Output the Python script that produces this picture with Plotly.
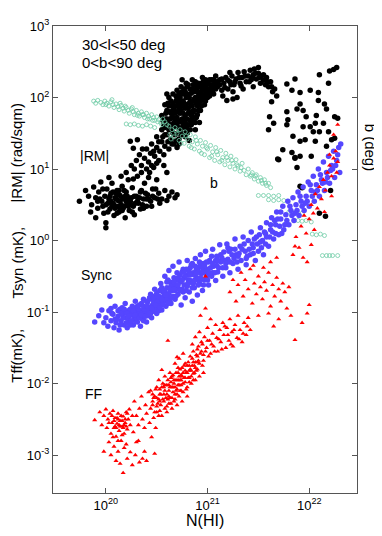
import plotly.graph_objects as go

# values, stored as (log10 N(HI), log10 y)
rm_pts = [
    (19.74,0.55),(19.80,0.70),(19.83,0.62),(19.86,0.50),(19.88,0.75),(19.90,0.60),(19.92,0.45),(19.93,0.68),
    (19.95,0.82),(19.96,0.55),(19.98,0.38),(19.99,0.62),(20.00,0.25),(20.00,0.18),(20.00,0.50),(20.01,0.72),
    (20.03,0.58),(20.04,0.44),(20.05,0.66),(20.06,0.80),(20.07,0.52),(20.08,0.35),(20.09,0.60),(20.10,0.47),
    (20.11,0.70),(20.12,0.56),(20.13,0.40),(20.14,0.63),(20.15,0.50),(20.16,0.76),(20.17,0.45),(20.18,0.58),
    (20.19,0.32),(20.20,0.68),(20.21,0.52),(20.22,0.85),(20.23,0.42),(20.25,0.60),(20.26,0.74),(20.27,0.48),
    (20.28,0.36),(20.30,0.62),(20.31,0.90),(20.32,0.52),(20.34,0.44),(20.35,0.70),(20.37,0.58),(20.38,0.80),
    (20.40,0.48),(20.41,0.64),(20.43,0.95),(20.44,0.55),(20.46,0.72),(20.48,0.60),(20.50,0.85),(20.52,0.66),
    (20.55,0.58),(20.58,0.70),(20.62,0.62),(20.65,0.68),(20.10,0.58),(20.13,0.70),(20.06,0.48),(20.20,0.55),
    (19.85,0.40),(19.90,0.32),(19.94,0.58),(19.97,0.72),(20.02,0.40),(20.04,0.62),(20.07,0.68),(20.09,0.45),
    (20.11,0.38),(20.12,0.64),(20.14,0.55),(20.16,0.42),(20.17,0.60),(20.18,0.70),(20.21,0.62),(20.22,0.48),
    (20.24,0.55),(20.26,0.40),(20.29,0.52),(20.33,0.60),(20.36,0.50),(20.39,0.66),(20.42,0.58),(20.45,0.48),
    (20.49,0.72),(20.53,0.52),(20.60,0.56),(20.68,0.60),(20.70,0.64),(20.03,0.88),(20.15,0.90),(20.27,0.86),
    (20.02,0.52),(20.05,0.55),(20.08,0.50),(20.10,0.66),(20.12,0.48),(20.14,0.45),(20.16,0.60),(20.18,0.48),
    (20.19,0.62),(20.23,0.58),(20.25,0.50),(20.28,0.62),(20.31,0.55),(20.34,0.68),(20.37,0.45),(20.40,0.58),
    (20.46,0.62),(20.51,0.58),(19.92,0.55),(19.97,0.48),
    (20.20,0.95),(20.25,1.05),(20.28,1.00),(20.30,1.12),(20.33,1.20),(20.35,1.05),(20.38,1.15),(20.40,1.28),
    (20.42,1.10),(20.44,1.22),(20.45,1.35),(20.47,1.02),(20.48,1.18),(20.50,1.30),(20.50,1.45),(20.52,1.12),
    (20.53,1.25),(20.55,1.38),(20.55,1.55),(20.57,1.20),(20.58,1.32),(20.60,1.48),(20.60,1.62),(20.62,1.28),
    (20.63,1.40),(20.65,1.55),(20.65,1.72),(20.67,1.35),(20.68,1.48),(20.70,1.62),(20.70,1.80),(20.72,1.42),
    (20.73,1.55),(20.75,1.70),(20.75,1.88),(20.24,1.39),(20.31,1.41),(20.27,1.29),(20.36,1.28),
    (20.45,1.05),(20.50,1.08),(20.52,1.38),(20.47,1.25),(20.56,1.45),(20.40,1.00),(20.35,0.95),(20.42,0.88),
    (20.57,1.05),(20.60,0.95),
    (20.55,1.75),(20.58,1.90),(20.60,1.82),(20.62,2.00),(20.63,1.70),(20.65,1.88),(20.66,2.05),(20.68,1.78),
    (20.69,1.95),(20.70,2.10),(20.71,1.68),(20.72,1.85),(20.73,2.00),(20.74,2.15),(20.75,1.58),(20.76,1.78),
    (20.77,1.92),(20.78,2.08),(20.79,2.20),(20.80,1.50),(20.80,1.70),(20.81,1.85),(20.82,2.00),(20.83,2.12),
    (20.84,1.62),(20.85,1.78),(20.86,1.95),(20.87,2.08),(20.88,2.22),(20.89,1.72),(20.90,1.88),(20.91,2.02),
    (20.92,2.15),(20.93,1.82),(20.94,1.96),(20.95,2.10),(20.96,2.22),(20.97,1.90),(20.98,2.05),(20.99,2.18),
    (21.00,2.00),(21.01,2.12),(21.02,2.25),(21.03,2.08),(21.05,2.18),(21.06,2.05),(21.08,2.22),(20.68,1.60),
    (20.78,1.45),(20.72,1.35),(20.82,1.40),(20.88,1.55),(20.92,1.65),(20.66,1.50),(20.85,2.25),(20.75,2.25),
    (20.95,2.28),(20.62,1.55),(20.60,2.05),(20.70,1.50),(20.78,1.65),(20.84,1.90),(20.90,2.08),(20.96,2.00),
    (20.57,1.62),(20.59,1.78),(20.61,1.92),(20.63,1.80),(20.64,1.95),(20.66,1.72),(20.67,1.85),(20.69,2.02),
    (20.70,1.72),(20.71,1.90),(20.72,2.06),(20.73,1.78),(20.74,1.92),(20.76,2.05),(20.77,1.68),(20.78,1.85),
    (20.79,2.00),(20.80,2.15),(20.81,1.78),(20.82,1.92),(20.83,1.68),(20.84,2.06),(20.85,1.88),(20.86,2.18),
    (20.87,1.82),(20.88,2.00),(20.89,2.12),(20.90,1.95),(20.91,2.20),(20.92,1.90),(20.93,2.08),(20.94,2.20),
    (20.95,1.98),(20.97,2.15),(20.98,2.25),(21.00,2.10),(21.02,2.02),(21.04,2.15),(21.06,2.25),(21.08,2.12),
    (20.74,1.48),(20.79,1.56),(20.86,1.66),(20.90,1.76),(20.67,1.65),(20.64,1.42),(20.69,1.40),(20.76,1.62),
    (20.83,1.55),(20.71,1.58),(20.58,1.48),(20.61,1.38),
    (20.56,1.68),(20.58,1.58),(20.59,1.70),(20.61,1.65),(20.62,1.88),(20.64,1.62),(20.64,1.78),(20.66,1.92),
    (20.67,1.58),(20.68,1.88),(20.69,1.70),(20.70,1.98),(20.71,1.80),(20.72,1.95),(20.73,1.66),(20.74,1.82),
    (20.75,2.08),(20.76,1.70),(20.76,1.95),(20.77,2.12),(20.78,1.75),(20.79,1.90),(20.80,2.05),(20.80,1.60),
    (20.81,2.18),(20.82,1.80),(20.83,1.95),(20.84,1.75),(20.85,2.12),(20.86,1.82),(20.87,1.98),(20.88,1.65),
    (20.88,2.10),(20.89,1.92),(20.90,2.15),(20.91,1.82),(20.92,2.00),(20.93,2.18),(20.94,1.88),(20.95,2.04),
    (20.96,2.14),(20.97,2.02),(20.98,1.95),(20.99,2.10),(21.00,2.22),(21.01,2.05),(21.03,2.18),(21.04,2.25),
    (21.05,2.10),(21.07,2.18),(20.65,1.35),(20.70,1.30),(20.77,1.50),(20.81,1.62),(20.86,1.72),(20.60,1.70),
    (20.66,1.82),(20.73,1.88),
    (21.10,2.15),(21.12,2.25),(21.14,2.10),(21.16,2.20),(21.18,2.28),(21.20,2.12),(21.22,2.22),(21.24,2.30),
    (21.26,2.18),(21.28,2.26),(21.30,2.35),(21.32,2.20),(21.34,2.28),(21.36,2.36),(21.38,2.22),(21.40,2.30),
    (21.42,2.38),(21.43,2.25),(21.45,2.32),(21.46,2.40),(21.48,2.26),(21.50,2.34),(21.52,2.20),(21.53,2.30),
    (21.55,2.24),(21.57,2.18),(21.58,2.28),(21.60,2.15),(21.62,2.22),(21.64,2.08),(21.66,2.12),(21.68,2.02),
    (21.15,2.02),(21.25,2.08),(21.35,2.12),(21.45,2.15),(21.22,2.35),(21.08,2.30),(21.50,2.42),
    (21.10,2.22),(21.12,2.18),(21.14,2.26),(21.17,2.14),(21.20,2.24),(21.23,2.18),(21.27,2.22),(21.31,2.28),
    (21.33,2.16),(21.37,2.30),(21.41,2.22),(21.44,2.28),(21.47,2.34),(21.51,2.28),(21.55,2.32),(21.59,2.22),
    (21.63,2.15),(21.19,1.96),(21.25,1.98),(21.29,2.00),
    (21.63,1.94),(21.60,1.55),(21.65,1.64),(21.78,2.19),(21.86,2.26),(21.83,2.10),(21.91,2.07),(22.01,2.10),
    (22.09,2.07),(22.10,2.32),(22.19,2.20),(22.20,2.37),(22.24,2.39),(22.27,2.42),(22.09,1.96),(22.17,1.84),
    (22.15,1.91),(22.25,1.73),(22.28,1.71),(21.91,1.91),(21.88,1.84),(21.94,1.82),(21.78,1.80),(21.79,1.69),
    (21.97,1.73),(22.07,1.75),(22.14,1.64),(22.01,1.59),(22.04,1.52),(21.94,1.59),(21.84,1.46),(21.91,1.39),
    (21.96,1.41),(22.06,1.39),(22.19,1.52),(22.22,1.41),(22.25,1.43),(21.74,1.27),(21.83,1.23),(21.86,1.16),
    (21.91,1.18),(22.02,1.18),(22.17,1.32),(21.69,1.14),(21.78,1.62),(22.06,1.64),(22.10,1.52),(21.61,1.73),
    (21.70,1.13),(21.86,1.15),(21.88,1.02),(21.91,0.76),(22.21,0.70),(22.10,0.38),(22.16,0.34),(21.93,0.74),
]

b_pts = [
    (19.88,1.95),(19.92,1.96),(19.95,1.93),(19.97,1.90),(19.99,1.95),(20.01,1.92),(20.03,1.88),(20.05,1.94),
    (20.07,1.90),(20.08,1.86),(20.10,1.91),(20.12,1.87),(20.13,1.83),(20.15,1.89),(20.17,1.85),(20.18,1.81),
    (20.20,1.86),(20.22,1.82),(20.23,1.78),(20.25,1.84),(20.27,1.80),(20.28,1.76),(20.30,1.82),(20.32,1.78),
    (20.33,1.74),(20.35,1.80),(20.37,1.76),(20.38,1.72),(20.40,1.78),(20.42,1.74),(20.43,1.70),(20.45,1.76),
    (20.47,1.72),(20.48,1.68),(20.50,1.73),(20.52,1.69),(20.54,1.65),(20.56,1.70),(20.58,1.66),(20.60,1.62),
    (19.90,1.92),(20.00,1.90),(20.06,1.97),(20.14,1.92),(20.19,1.88),(20.26,1.86),(20.31,1.75),(20.36,1.76),
    (20.41,1.70),(20.46,1.68),(20.51,1.66),(20.55,1.62),
    (20.20,1.63),(20.24,1.62),(20.28,1.63),(20.32,1.61),(20.36,1.60),(20.40,1.62),(20.44,1.60),(20.48,1.58),
    (20.62,1.60),(20.63,1.48),(20.65,1.55),(20.67,1.45),(20.68,1.58),(20.70,1.50),(20.72,1.40),(20.73,1.55),
    (20.75,1.46),(20.77,1.36),(20.78,1.52),(20.80,1.42),(20.82,1.32),(20.83,1.48),(20.85,1.38),(20.87,1.28),
    (20.88,1.45),(20.90,1.35),(20.92,1.25),(20.93,1.40),(20.95,1.32),(20.97,1.20),(20.98,1.37),(21.00,1.28),
    (21.02,1.16),(21.03,1.33),(21.05,1.24),(21.07,1.12),(21.08,1.30),(21.10,1.20),(21.12,1.10),(21.13,1.26),
    (21.15,1.16),(21.17,1.06),(21.18,1.22),(21.20,1.12),(21.22,1.03),(21.23,1.18),(21.25,1.08),(21.27,1.00),
    (21.28,1.13),(21.30,1.04),(21.32,0.97),(21.34,1.08),
    (20.64,1.42),(20.69,1.53),(20.74,1.36),(20.79,1.46),(20.84,1.30),(20.89,1.40),(20.94,1.22),(20.99,1.30),
    (21.04,1.18),(21.09,1.24),(21.14,1.12),(21.19,1.16),(21.24,1.12),(21.29,1.06),(21.33,1.02),
    (21.36,0.98),(21.38,0.92),(21.40,1.00),(21.42,0.90),(21.44,0.95),(21.46,0.86),(21.48,0.92),(21.50,0.83),
    (21.52,0.88),(21.54,0.80),(21.56,0.85),(21.58,0.77),(21.60,0.80),(21.62,0.74),
    (21.43,0.92),(21.47,0.90),(21.53,0.84),(21.57,0.80),
    (21.50,0.63),(21.55,0.63),(21.60,0.63),(21.65,0.62),(21.70,0.63),
    (21.60,0.57),(21.65,0.56),(21.70,0.57),(21.75,0.56),
    (21.80,0.40),(21.84,0.39),(21.88,0.40),(21.93,0.38),
    (21.89,0.28),(21.93,0.27),(21.97,0.28),(22.02,0.26),
    (22.03,0.09),(22.07,0.08),(22.11,0.09),(22.15,0.07),
    (22.13,-0.21),(22.17,-0.21),(22.20,-0.21),(22.23,-0.21),(22.28,-0.21),
]

sync_pts = [
    (19.89,-1.14),(19.93,-1.05),(19.96,-0.97),(19.98,-1.15),(20.00,-1.08),(20.02,-1.20),(20.03,-0.98),(20.04,-0.78),
    (20.05,-1.12),(20.07,-1.03),(20.08,-1.22),(20.09,-0.92),(20.10,-1.15),(20.12,-1.06),(20.13,-1.25),(20.14,-0.96),
    (20.15,-1.12),(20.17,-1.02),(20.18,-1.18),(20.19,-0.88),(20.20,-1.08),(20.21,-1.22),(20.22,-0.98),(20.23,-1.13),
    (20.25,-1.04),(20.26,-0.92),(20.27,-1.18),(20.28,-1.08),(20.29,-0.85),(20.30,-0.99),(20.31,-1.14),(20.32,-1.05),
    (20.33,-0.90),(20.34,-1.20),(20.35,-0.98),(20.36,-1.10),(20.37,-0.82),(20.38,-1.02),(20.39,-0.93),(20.40,-1.14),
    (20.41,-0.86),(20.42,-1.05),(20.43,-0.96),(20.44,-0.75),(20.45,-1.08),(20.46,-0.90),(20.47,-0.99),(20.48,-0.68),
    (20.49,-0.84),(20.50,-1.02),(20.51,-0.93),(20.52,-0.78),(20.53,-0.88),(20.54,-0.60),(20.55,-0.97),(20.56,-0.72),
    (20.57,-0.85),(20.58,-0.50),(20.59,-0.92),(20.60,-0.66),(20.61,-0.80),(20.62,-0.42),(20.63,-0.58),(20.64,-0.88),
    (20.65,-0.70),(20.66,-0.36),(20.67,-0.52),(20.68,-0.82),(20.69,-0.64),(20.70,-0.45),(20.71,-0.75),(20.72,-0.30),
    (20.73,-0.58),(20.74,-0.90),(20.75,-0.68),(20.76,-0.40),(20.77,-0.52),(20.78,-0.80),(20.79,-0.62),(20.80,-0.28),
    (20.81,-0.48),(20.82,-0.72),(20.83,-0.38),(20.84,-0.58),(20.85,-0.85),(20.86,-0.45),(20.87,-0.66),(20.88,-0.25),
    (20.89,-0.52),(20.90,-0.76),(20.91,-0.38),(20.92,-0.60),(20.93,-0.20),(20.94,-0.46),(20.95,-0.70),(20.96,-0.32),
    (20.97,-0.55),(20.98,-0.15),(21.00,-0.40),(21.01,-0.62),(21.02,-0.28),(21.04,-0.50),(21.05,-0.12),(21.06,-0.36),
    (21.08,-0.56),(21.09,-0.22),(21.10,-0.44),(21.12,-0.06),(21.13,-0.30),(21.15,-0.50),(21.16,-0.16),(21.18,-0.38),
    (21.19,-0.05),(21.20,-0.26),(21.22,-0.45),(21.23,-0.12),(21.25,-0.32),(21.27,0.02),(21.28,-0.20),(21.30,-0.40),
    (21.32,-0.08),(21.33,-0.28),(21.35,0.05),(21.37,-0.15),(21.38,-0.34),(21.40,0.00),(21.42,-0.20),(21.43,0.12),
    (21.45,-0.10),(21.47,-0.28),(21.48,0.05),(21.50,-0.15),(21.52,0.18),(21.54,0.00),(21.55,-0.20),(21.57,0.10),
    (21.58,0.25),(21.60,-0.08),(21.62,0.15),(21.63,0.32),(21.65,0.02),(21.67,0.22),(21.68,0.40),(21.70,0.08),
    (21.72,0.30),(21.74,0.48),(21.75,0.15),(21.77,0.36),(21.79,0.55),(21.80,0.22),(21.82,0.42),(21.84,0.60),
    (21.85,0.28),(21.87,0.50),(21.89,0.68),(21.90,0.35),(21.92,0.55),(21.94,0.75),(21.95,0.42),(21.97,0.62),
    (21.99,0.82),(22.00,0.48),(22.02,0.70),(22.04,0.90),(22.05,0.55),(22.07,0.78),(22.09,1.00),(22.10,0.62),
    (22.12,0.85),(22.14,1.10),(22.15,0.70),(22.17,0.95),(22.19,1.18),(22.20,0.80),(22.22,1.05),(22.24,1.25),
    (22.25,0.88),(22.27,1.12),(22.29,1.30),(22.30,0.95),(22.31,1.35),
    (20.05,-0.95),(20.11,-1.10),(20.16,-0.94),(20.20,-1.15),(20.24,-0.96),(20.29,-1.12),(20.33,-1.00),(20.37,-1.12),
    (20.41,-1.00),(20.45,-0.82),(20.49,-0.95),(20.53,-0.70),(20.57,-0.78),(20.61,-0.55),(20.65,-0.62),(20.69,-0.55),
    (20.73,-0.48),(20.77,-0.62),(20.81,-0.55),(20.85,-0.32),(20.89,-0.40),(20.93,-0.35),(20.97,-0.45),(21.01,-0.30),
    (21.05,-0.45),(21.09,-0.35),(21.13,-0.20),(21.17,-0.28),(21.21,-0.15),(21.26,-0.25),(21.31,-0.18),(21.36,-0.05),
    (21.41,-0.12),(21.46,0.02),(21.51,0.08),(21.56,0.12),(21.61,0.05),(21.66,0.28),(21.71,0.20),
    (20.06,-1.02),(20.09,-1.10),(20.12,-0.98),(20.14,-1.18),(20.17,-1.08),(20.19,-1.00),(20.22,-1.08),(20.24,-1.18),
    (20.26,-1.02),(20.28,-0.95),(20.30,-1.08),(20.32,-0.96),(20.34,-1.06),(20.35,-0.88),(20.38,-0.96),(20.40,-0.85),
    (20.42,-0.94),(20.43,-0.80),(20.44,-1.02),(20.46,-0.78),(20.47,-0.88),(20.48,-0.96),(20.50,-0.74),(20.51,-0.85),
    (20.52,-0.98),(20.54,-0.80),(20.55,-0.66),(20.56,-0.90),(20.58,-0.72),(20.59,-0.82),(20.60,-0.58),(20.62,-0.74),
    (20.63,-0.85),(20.64,-0.64),(20.66,-0.78),(20.67,-0.58),(20.68,-0.70),(20.70,-0.62),(20.71,-0.52),(20.72,-0.68),
    (20.74,-0.55),(20.75,-0.44),(20.76,-0.72),(20.78,-0.50),(20.79,-0.40),(20.80,-0.64),(20.82,-0.44),(20.83,-0.56),
    (20.84,-0.34),(20.86,-0.60),(20.87,-0.48),(20.88,-0.36),(20.90,-0.55),(20.91,-0.44),(20.92,-0.30),(20.94,-0.54),
    (20.95,-0.38),(20.96,-0.62),(20.98,-0.42),(20.99,-0.30),(21.00,-0.55),(21.03,-0.38),(21.04,-0.22),(21.07,-0.45),
    (21.08,-0.28),(21.11,-0.38),(21.14,-0.24),(21.18,-0.32),(21.20,-0.10),(21.24,-0.20),(21.29,-0.30),(21.34,-0.12),
    (21.39,-0.22),(21.44,-0.05),(21.49,-0.05),(21.53,-0.10),(21.58,0.05),(21.64,0.12),(21.69,0.30),(21.73,0.10),
    (21.78,0.28),(21.83,0.35),(21.88,0.42),(21.93,0.48),(21.98,0.55),(22.03,0.62),(22.08,0.70),(22.13,0.80),
    (22.18,0.88),(22.23,1.00),(22.28,1.20),
    (20.15,-1.02),(20.18,-0.96),(20.21,-1.02),(20.23,-1.05),(20.25,-1.12),(20.27,-0.98),(20.29,-1.04),(20.31,-0.92),
    (20.33,-1.08),(20.35,-1.04),(20.37,-0.92),(20.39,-1.06),(20.41,-0.92),(20.43,-1.02),(20.45,-0.94),(20.47,-0.80),
    (20.49,-0.90),(20.51,-0.78),(20.53,-0.94),(20.55,-0.82),(20.57,-0.70),(20.59,-0.76),(20.61,-0.88),(20.63,-0.68),
    (20.65,-0.80),(20.67,-0.68),(20.69,-0.78),(20.71,-0.62),(20.73,-0.70),(20.75,-0.56),(20.77,-0.44),(20.79,-0.70),
    (20.81,-0.60),(20.83,-0.48),(20.85,-0.66),(20.87,-0.56),(20.89,-0.46),(20.91,-0.62),(20.93,-0.52),(20.95,-0.44),
    (20.97,-0.35),(20.99,-0.50),(21.02,-0.45),(21.05,-0.32),(21.10,-0.28),(21.15,-0.38),(21.22,-0.30),(21.27,-0.12),
    (21.30,-0.22),(21.38,-0.25),(21.45,-0.18),(21.52,-0.02),(21.57,-0.05),(21.62,0.22),(21.67,0.10),(21.72,0.40),
    (21.76,0.22),(21.81,0.48),(21.86,0.38),(21.91,0.62),(21.96,0.52),(22.01,0.78),(22.06,0.68),(22.11,0.92),
    (22.16,0.82),(22.21,0.98),(22.26,1.05),
]

ff_pts = [
    (19.89,-2.51),(19.94,-2.40),(19.96,-2.58),(19.98,-2.45),(20.00,-2.36),(20.01,-2.62),(20.02,-2.50),(20.04,-2.42),
    (20.05,-2.70),(20.06,-2.55),(20.07,-2.38),(20.08,-2.62),(20.09,-2.48),(20.10,-2.74),(20.11,-2.56),(20.12,-2.42),
    (20.13,-2.66),(20.14,-2.52),(20.15,-2.80),(20.16,-2.60),(20.17,-2.46),(20.18,-2.70),(20.19,-2.55),(20.20,-2.40),
    (20.21,-2.64),(20.22,-2.50),(20.23,-2.36),(20.24,-2.58),(20.26,-2.45),(20.27,-2.68),
    (20.03,-2.55),(20.06,-2.45),(20.09,-2.60),(20.11,-2.48),(20.13,-2.58),(20.15,-2.45),(20.17,-2.62),(20.19,-2.50),
    (20.21,-2.42),(20.16,-2.72),(20.12,-2.80),(20.20,-2.85),(20.07,-2.75),
    (20.14,-2.60),(20.16,-2.52),(20.18,-2.58),(20.12,-2.50),(20.10,-2.62),(20.20,-2.60),(20.08,-2.52),
    (19.98,-2.95),(20.03,-2.82),(20.05,-3.00),(20.08,-2.88),(20.10,-3.08),(20.12,-2.95),(20.14,-3.12),(20.17,-3.25),
    (20.18,-2.90),(20.21,-3.05),(20.24,-2.96),(20.26,-3.14),(20.29,-3.00),(20.33,-3.10),(20.36,-3.05),(20.38,-2.95),
    (20.30,-2.82),(20.40,-3.08),
    (20.28,-2.25),(20.30,-2.45),(20.32,-2.58),(20.33,-2.35),(20.35,-2.18),(20.36,-2.50),(20.38,-2.62),(20.39,-2.30),
    (20.40,-2.42),(20.42,-2.12),(20.43,-2.55),(20.44,-2.35),(20.46,-2.25),(20.47,-2.48),(20.49,-2.62),(20.50,-2.32),
    (20.52,-2.45),(20.53,-2.15),(20.32,-2.80),(20.45,-2.75),(20.48,-2.98),
    (20.44,-2.10),(20.46,-2.30),(20.48,-2.18),(20.50,-2.05),(20.51,-2.28),(20.53,-2.38),(20.54,-2.15),(20.56,-2.00),
    (20.57,-2.25),(20.58,-2.10),(20.60,-2.32),(20.61,-1.95),(20.62,-2.18),(20.63,-2.05),(20.64,-2.28),(20.65,-1.90),
    (20.66,-2.12),(20.67,-2.00),(20.68,-2.22),(20.69,-1.85),(20.70,-2.08),(20.71,-1.95),(20.72,-2.18),(20.73,-1.80),
    (20.74,-2.02),(20.75,-1.90),(20.76,-2.12),(20.77,-1.75),(20.78,-1.98),(20.79,-1.85),(20.80,-2.05),(20.81,-1.70),
    (20.82,-1.92),(20.83,-1.80),(20.84,-2.00),(20.85,-1.65),(20.86,-1.86),(20.87,-1.75),(20.88,-1.95),(20.89,-1.60),
    (20.90,-1.80),(20.91,-1.68),(20.92,-1.90),(20.94,-1.55),(20.95,-1.75),(20.55,-2.45),(20.60,-2.40),(20.65,-2.35),
    (20.58,-1.90),(20.63,-1.85),(20.52,-1.95),(20.70,-2.30),(20.75,-2.25),(20.80,-2.18),(20.48,-2.40),(20.68,-1.72),
    (20.72,-1.65),(20.76,-1.58),(20.55,-1.81),(20.61,-1.40),(20.70,-1.63),(20.59,-2.20),(20.66,-2.05),(20.73,-1.95),
    (20.47,-2.20),(20.49,-2.08),(20.50,-2.40),(20.52,-2.22),(20.54,-2.30),(20.55,-2.05),(20.57,-2.15),(20.58,-2.35),
    (20.60,-2.02),(20.61,-2.22),(20.62,-2.10),(20.64,-1.98),(20.65,-2.20),(20.66,-1.88),(20.67,-2.25),(20.68,-2.05),
    (20.69,-1.95),(20.70,-2.15),(20.71,-1.85),(20.72,-2.02),(20.73,-2.10),(20.74,-1.88),(20.75,-1.78),(20.76,-2.00),
    (20.77,-1.92),(20.78,-1.82),(20.79,-2.08),(20.80,-1.75),(20.81,-1.92),(20.82,-1.82),(20.83,-1.62),(20.84,-1.90),
    (20.85,-1.75),(20.86,-1.55),(20.87,-1.85),(20.88,-1.70),(20.89,-1.82),(20.90,-1.62),(20.91,-1.48),(20.92,-1.72),
    (20.93,-1.58),(20.95,-1.45),(20.96,-1.68),(20.98,-1.55),(21.00,-1.40),(21.01,-1.62),(21.04,-1.45),(21.07,-1.55),
    (21.11,-1.38),(21.14,-1.52),(21.17,-1.20),(21.20,-1.32),(21.23,-1.45),(21.26,-1.25),(21.31,-1.38),(21.35,-1.30),
    (21.39,-1.20),
    (20.46,-2.15),(20.50,-2.20),(20.53,-2.08),(20.56,-2.22),(20.58,-2.02),(20.60,-2.15),(20.62,-2.02),(20.63,-2.20),
    (20.65,-2.05),(20.67,-1.95),(20.69,-2.10),(20.71,-2.02),(20.72,-1.90),(20.74,-1.95),(20.76,-1.85),(20.78,-1.92),
    (20.80,-1.85),(20.82,-1.75),(20.84,-1.82),(20.86,-1.70),(20.88,-1.78),(20.90,-1.70),(20.62,-2.28),(20.68,-2.15),
    (20.74,-2.10),(20.57,-2.05),(20.64,-1.92),(20.71,-1.78),(20.53,-2.25),(20.78,-1.72),(20.82,-1.98),(20.86,-1.95),
    (20.85,-1.45),(20.88,-1.35),(20.90,-1.52),(20.92,-1.28),(20.94,-1.42),(20.96,-1.60),(20.97,-1.35),(20.99,-1.50),
    (21.00,-1.22),(21.02,-1.40),(21.03,-1.58),(21.05,-1.30),(21.06,-1.48),(21.08,-1.18),(21.09,-1.36),(21.10,-1.55),
    (21.12,-1.25),(21.13,-1.42),(21.15,-1.15),(21.16,-1.32),(21.18,-1.50),(21.19,-1.22),(21.21,-1.40),(21.22,-1.10),
    (21.24,-1.28),(21.25,-1.48),(21.27,-1.18),(21.29,-1.36),(21.30,-1.05),(21.32,-1.25),(21.34,-1.42),(21.36,-1.15),
    (21.38,-1.32),(21.40,-1.08),(21.42,-1.25),(20.93,-1.05),(20.98,-0.95),(21.03,-1.10),(20.96,-1.85),(20.98,-0.50),
    (21.22,-0.72),(21.25,-0.55),(21.28,-0.85),(21.30,-0.62),(21.33,-0.45),(21.35,-0.78),(21.37,-0.55),(21.40,-0.68),
    (21.42,-0.40),(21.44,-0.88),(21.46,-0.60),(21.48,-0.75),(21.50,-0.50),(21.52,-0.65),(21.54,-0.82),(21.56,-0.58),
    (21.58,-0.70),(21.60,-0.45),(21.62,-0.92),(21.64,-0.62),(21.66,-0.78),(21.68,-0.52),(21.70,-0.68),(21.72,-0.85),
    (21.74,-0.60),(21.76,-0.72),(21.78,-0.95),(21.80,-0.65),(21.45,-0.35),(21.55,-0.38),(21.62,-0.30),(21.68,-0.24),
    (21.86,-0.08),(21.94,-0.24),(22.02,-0.06),(21.86,-1.39),(22.00,-0.90),(21.98,-1.02),(21.93,-1.15),(21.82,-1.05),
    (21.70,-1.10),(21.60,-1.02),(21.50,-1.05),(21.65,-1.20),
    (21.84,-0.20),(21.87,0.05),(21.90,-0.10),(21.92,0.20),(21.95,0.35),(21.97,0.10),(22.00,0.30),(22.02,0.50),
    (22.04,0.38),(22.06,0.65),(22.08,0.45),(22.10,0.75),(22.12,0.58),(22.14,0.85),(22.16,0.70),(22.18,0.95),
    (22.20,1.05),(22.22,0.90),(22.24,1.15),(22.26,1.25),(22.28,1.10),(22.24,1.48),(22.28,1.62),(22.22,0.62),
    (22.15,0.40),(22.05,0.15),(21.98,-0.30),(22.27,0.95),(22.20,1.20),
]

x_tick_exp = [20, 21, 22]
y_tick_exp = [-3, -2, -1, 0, 1, 2, 3]

FONT = "Liberation Sans, Arial, sans-serif"


def unlog(pts):
    return [10 ** p[0] for p in pts], [10 ** p[1] for p in pts]


fig = go.Figure()

x, y = unlog(rm_pts)
fig.add_trace(go.Scatter(x=x, y=y, mode="markers",
                         marker=dict(symbol="circle", size=5.5, color="black", line=dict(width=0))))
x, y = unlog(b_pts)
fig.add_trace(go.Scatter(x=x, y=y, mode="markers",
                         marker=dict(symbol="circle-open", size=4, color="#6fcca6", line=dict(width=0.8))))
x, y = unlog(sync_pts)
fig.add_trace(go.Scatter(x=x, y=y, mode="markers",
                         marker=dict(symbol="circle", size=5.5, color="#5546ff", line=dict(width=0))))
x, y = unlog(ff_pts)
fig.add_trace(go.Scatter(x=x, y=y, mode="markers",
                         marker=dict(symbol="triangle-up", size=4.5, color="#ff0000", line=dict(width=0))))

# the page puts the figure 8px in from the top-left corner; plot box wanted at these page pixels
OFF = 8
L, R, T, B = 53, 357, 17, 493
W, H = 382 - OFF, 536 - OFF


def px(xp):
    return (xp - L) / (R - L)


def py(yp):
    return (B - yp) / (B - T)


notes = [
    ("30<l<50 deg", 80, 36, 15, 0, "left"),
    ("0<b<90 deg", 80, 54, 15, 0, "left"),
    ("|RM|", 78, 149, 14, 0, "left"),
    ("b", 214, 177, 14, 0, "center"),
    ("Sync", 79, 271, 14, 0, "left"),
    ("FF", 83, 392, 14, 0, "left"),
    ("|RM| (rad/sqm)", 17, 147, 15, -90, "center"),
    ("Tsyn (mK),", 17, 258, 15, -90, "center"),
    ("Tff(mK),", 17, 353, 15, -90, "center"),
    ("b (deg)", 370, 141, 15, 90, "center"),
    ("N(HI)", 205, 521, 16, 0, "center"),
]
for txt, xp, yp, sz, ang, al in notes:
    fig.add_annotation(text=txt, x=px(xp), y=py(yp), xref="paper", yref="paper",
                       showarrow=False, textangle=ang, xanchor=al, yanchor="middle",
                       font=dict(family=FONT, size=sz, color="black"))

axis_common = dict(type="log", showgrid=False, zeroline=False,
                   showline=True, linecolor="#555", linewidth=1, mirror="ticks", ticks="inside",
                   ticklen=5, tickcolor="#555", tickfont=dict(family=FONT, size=13, color="black"))

fig.update_layout(
    width=W, height=H, showlegend=False,
    margin=dict(l=L - OFF, r=382 - R, t=T - OFF, b=536 - B),
    plot_bgcolor="white", paper_bgcolor="white",
    xaxis=dict(range=[19.48, 22.47],
               tickvals=[10.0 ** e for e in x_tick_exp],
               ticktext=["10<sup>%d</sup>" % e for e in x_tick_exp], **axis_common),
    yaxis=dict(range=[-3.53, 3.0],
               tickvals=[10.0 ** e for e in y_tick_exp],
               ticktext=["10<sup>%d</sup>" % e for e in y_tick_exp], **axis_common),
)
fig.write_html("out.html")
